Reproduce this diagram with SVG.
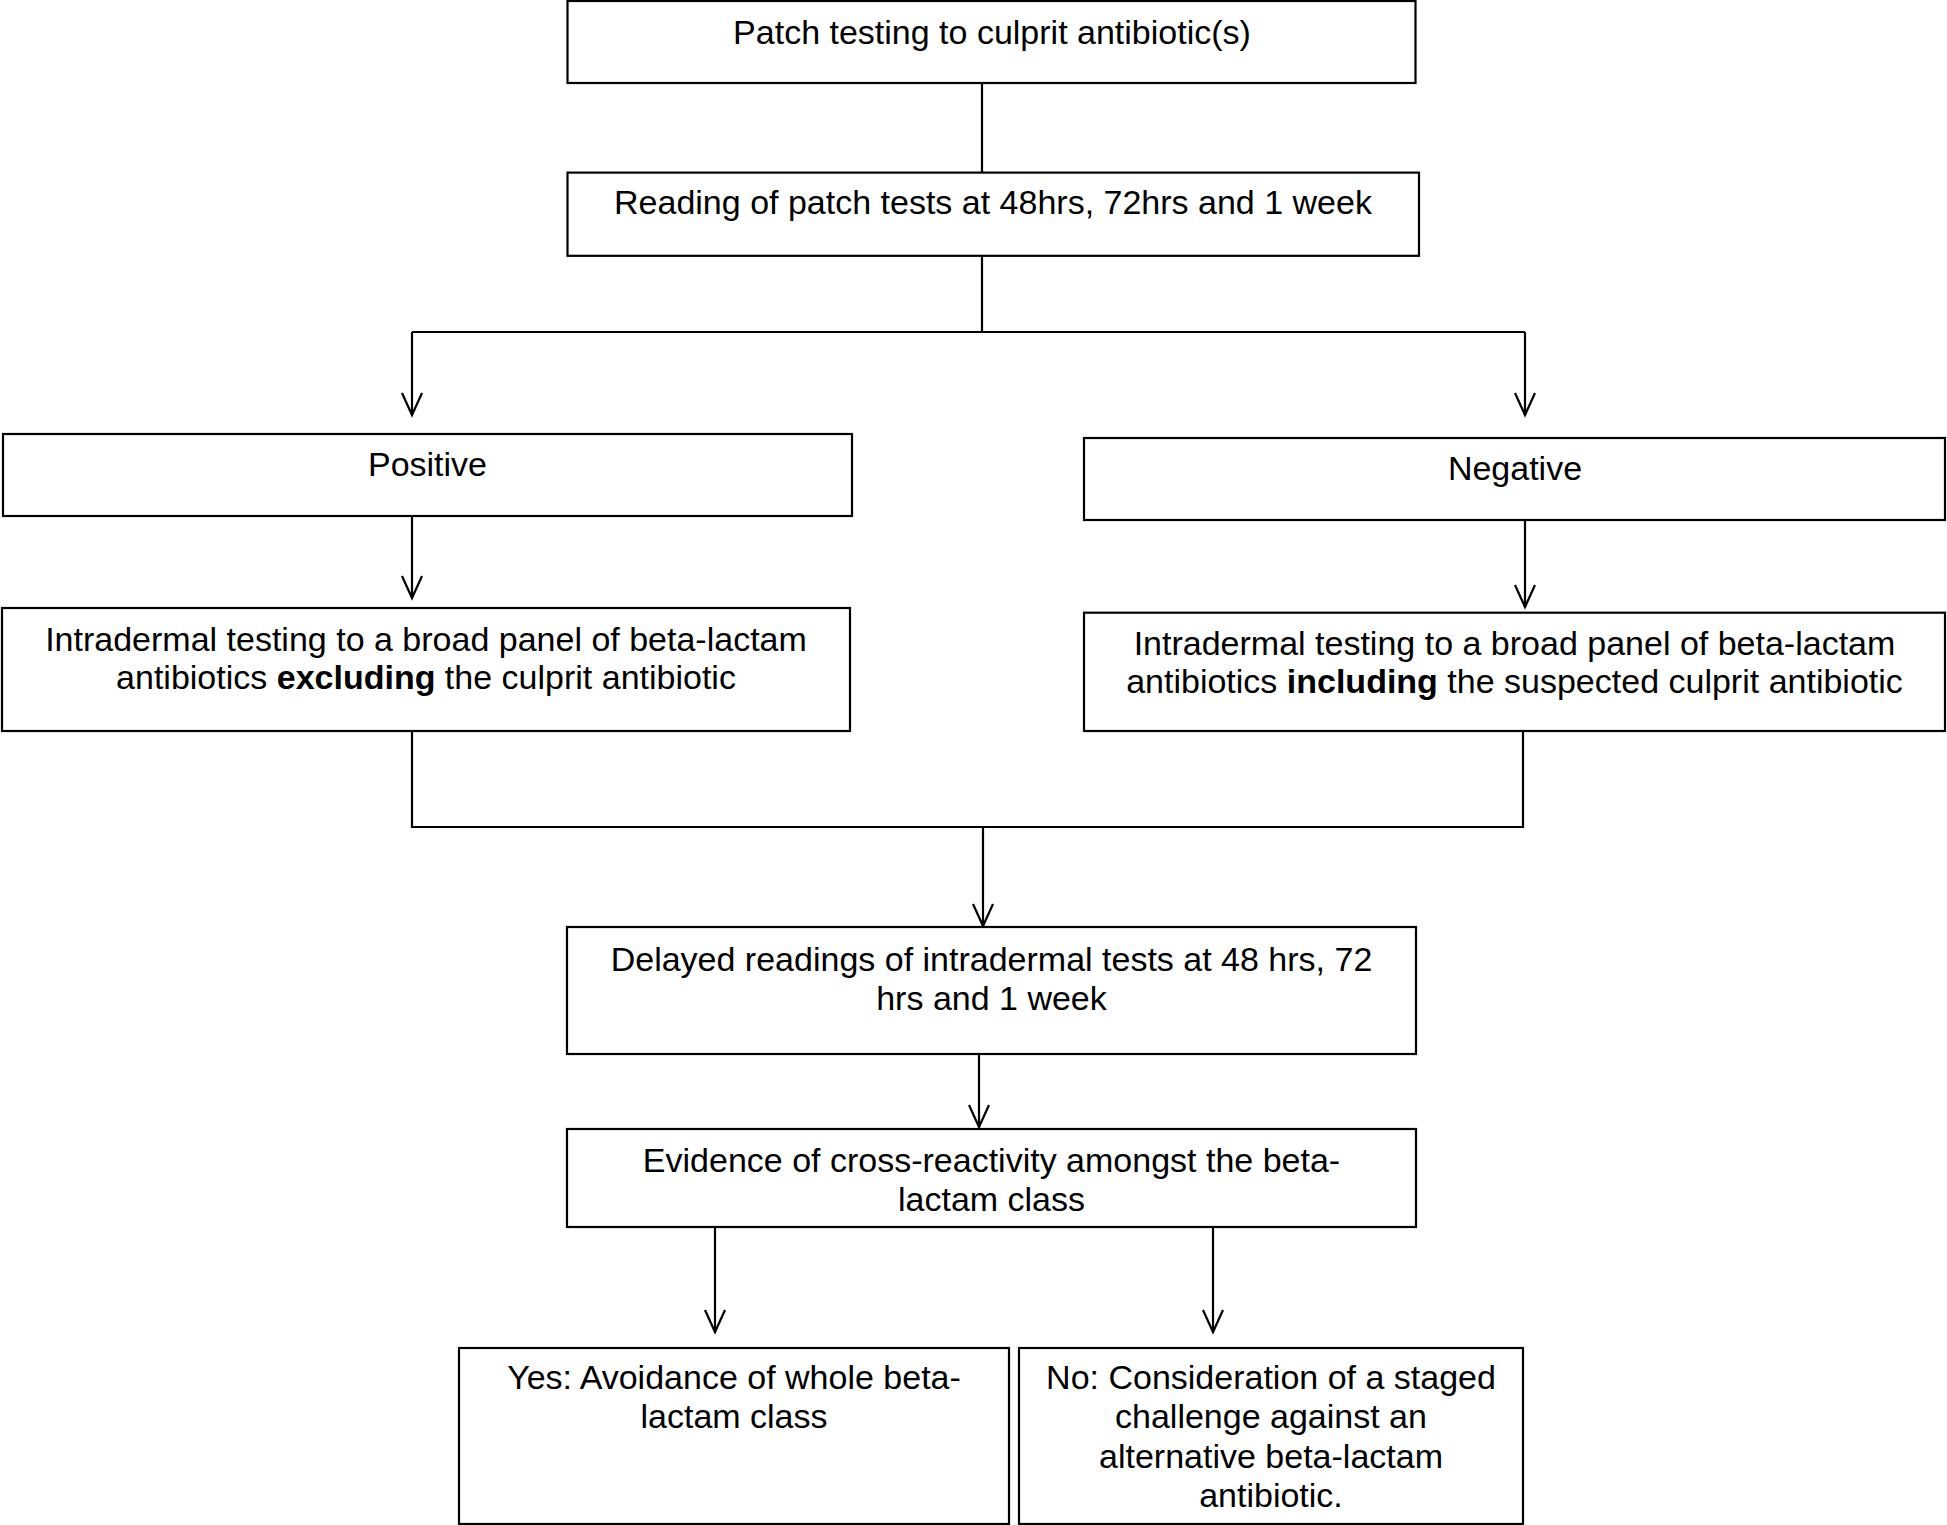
<svg xmlns="http://www.w3.org/2000/svg" width="1947" height="1525" viewBox="0 0 1947 1525">
<style>
.box{fill:#fff;stroke:#000;stroke-width:2.2}
.t{font-family:"Liberation Sans",Arial,sans-serif;font-size:34px;fill:#000;text-anchor:middle}
.b{font-weight:bold}
.c{fill:none;stroke:#000;stroke-width:2.2}
</style>
<defs>
<marker id="arr" markerUnits="userSpaceOnUse" markerWidth="30" markerHeight="30" viewBox="-26 -15 30 30" refX="0" refY="0" orient="auto" overflow="visible">
<path d="M-22,-10 L0,0 L-22,10" fill="none" stroke="#000" stroke-width="2.2"/>
</marker>
</defs>
<rect width="1947" height="1525" fill="#fff"/>
<g id="connectors">
<path class="c" d="M982,83 V172.6"/>
<path class="c" d="M982,256 V332 M412,332 H1525"/>
<path class="c" d="M412,332 V415" marker-end="url(#arr)"/>
<path class="c" d="M1525,332 V415" marker-end="url(#arr)"/>
<path class="c" d="M412,516 V598" marker-end="url(#arr)"/>
<path class="c" d="M1525,520 V607" marker-end="url(#arr)"/>
<path class="c" d="M412,731 V827 H1523 V731"/>
<path class="c" d="M983,827 V926" marker-end="url(#arr)"/>
<path class="c" d="M979,1054 V1127" marker-end="url(#arr)"/>
<path class="c" d="M715,1227 V1332" marker-end="url(#arr)"/>
<path class="c" d="M1213,1227 V1332" marker-end="url(#arr)"/>
</g>
<g id="n1"><rect class="box" x="567.5" y="1" width="848" height="82"/><text class="t" x="992" y="43.5">Patch testing to culprit antibiotic(s)</text></g>
<g id="n2"><rect class="box" x="567.5" y="172.6" width="851.5" height="83.2"/><text class="t" x="993" y="213.6">Reading of patch tests at 48hrs, 72hrs and 1 week</text></g>
<g id="n3"><rect class="box" x="3" y="434" width="849" height="82"/><text class="t" x="427.5" y="476">Positive</text></g>
<g id="n4"><rect class="box" x="1084" y="438" width="861" height="82"/><text class="t" x="1515" y="480">Negative</text></g>
<g id="n5"><rect class="box" x="2" y="608" width="848" height="123"/><text class="t" x="426" y="651">Intradermal testing to a broad panel of beta-lactam</text><text class="t" x="426" y="689">antibiotics <tspan class="b">excluding</tspan> the culprit antibiotic</text></g>
<g id="n6"><rect class="box" x="1084" y="612.7" width="861" height="118.3"/><text class="t" x="1514.5" y="655">Intradermal testing to a broad panel of beta-lactam</text><text class="t" x="1514.5" y="693">antibiotics <tspan class="b">including</tspan> the suspected culprit antibiotic</text></g>
<g id="n7"><rect class="box" x="567" y="927" width="849" height="127"/><text class="t" x="991.5" y="971">Delayed readings of intradermal tests at 48 hrs, 72</text><text class="t" x="991.5" y="1010">hrs and 1 week</text></g>
<g id="n8"><rect class="box" x="567" y="1129" width="849" height="98"/><text class="t" x="991.5" y="1172">Evidence of cross-reactivity amongst the beta-</text><text class="t" x="991.5" y="1211">lactam class</text></g>
<g id="n9"><rect class="box" x="459" y="1348" width="550" height="176"/><text class="t" x="734" y="1389">Yes: Avoidance of whole beta-</text><text class="t" x="734" y="1428">lactam class</text></g>
<g id="n10"><rect class="box" x="1019" y="1348" width="504" height="176"/><text class="t" x="1271" y="1389">No: Consideration of a staged</text><text class="t" x="1271" y="1428">challenge against an</text><text class="t" x="1271" y="1468">alternative beta-lactam</text><text class="t" x="1271" y="1507">antibiotic.</text></g>
</svg>
